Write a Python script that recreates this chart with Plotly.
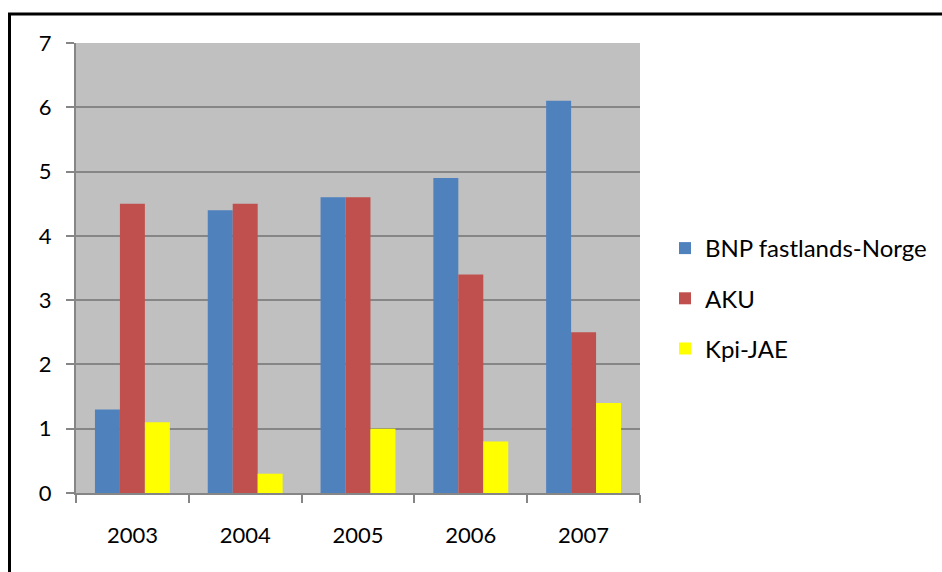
import plotly.graph_objects as go

# Data
years = ["2003", "2004", "2005", "2006", "2007"]
bnp = [1.3, 4.4, 4.6, 4.9, 6.1]
aku = [4.5, 4.5, 4.6, 3.4, 2.5]
kpi = [1.1, 0.3, 1.0, 0.8, 1.4]
series_names = ["BNP fastlands-Norge", "AKU", "Kpi-JAE"]
series_colors = ["#4F81BD", "#C0504D", "#FFFF00"]
y_ticks = [0, 1, 2, 3, 4, 5, 6, 7]

W, H = 942, 572
FONT = "Lato, 'Open Sans', sans-serif"
FSIZE = 22
GRID = "#868686"

fig = go.Figure()
for name, vals, col in zip(series_names, [bnp, aku, kpi], series_colors):
    fig.add_trace(go.Bar(
        x=years, y=vals, name=name, legendgroup=name,
        marker=dict(color=col, line=dict(width=0)),
    ))

fig.update_layout(
    width=W, height=H,
    margin=dict(l=76, r=302, t=43, b=79),
    paper_bgcolor="white",
    plot_bgcolor="#C0C0C0",
    barmode="group",
    bargap=0.336,
    bargroupgap=0,
    font=dict(family=FONT, size=FSIZE, color="black"),
    legend=dict(
        xref="container", yref="container",
        x=665 / W, y=1 - 226 / H,
        xanchor="left", yanchor="top",
        font=dict(family=FONT, size=24, color="black"),
        tracegroupgap=16,
        bgcolor="rgba(0,0,0,0)",
    ),
    xaxis=dict(
        showline=True, linecolor=GRID, linewidth=2,
        ticks="outside", tickson="boundaries", ticklen=8, tickwidth=2, tickcolor=GRID,
        ticklabelstandoff=22,
        showgrid=False,
    ),
    yaxis=dict(
        range=[0, 7], tickvals=y_ticks,
        showline=True, linecolor=GRID, linewidth=2,
        ticks="outside", ticklen=8, tickwidth=2, tickcolor=GRID,
        ticklabelstandoff=10,
        showgrid=True, gridcolor=GRID, gridwidth=2,
        zeroline=False,
    ),
    shapes=[
        dict(type="line", xref="paper", yref="paper", layer="above",
             x0=(8 - 76) / 564, x1=(W + 5 - 76) / 564,
             y0=1 + (43 - 14) / 450, y1=1 + (43 - 14) / 450,
             line=dict(color="black", width=3)),
        dict(type="line", xref="paper", yref="paper", layer="above",
             x0=(9.5 - 76) / 564, x1=(9.5 - 76) / 564,
             y0=1 + (43 - 13) / 450, y1=-(H - 493 + 5) / 450,
             line=dict(color="black", width=3)),
    ],
)

fig.write_html("out.html")
